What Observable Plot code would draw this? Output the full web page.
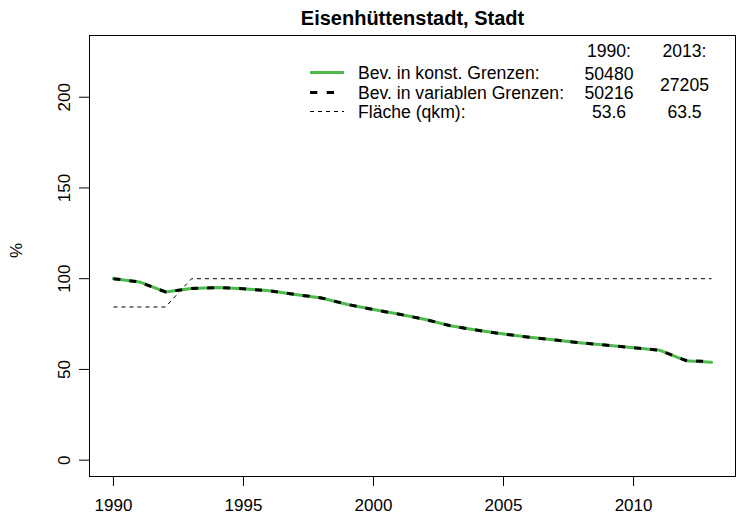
<!DOCTYPE html>
<html>
<head>
<meta charset="utf-8">
<script src="https://cdn.jsdelivr.net/npm/d3@7"></script>
<script src="https://cdn.jsdelivr.net/npm/@observablehq/plot@0.6"></script>
<style>
  body { margin: 0; background: #fff; }
  #chart { width: 742px; height: 516px; }
</style>
</head>
<body>
<div id="chart"></div>
<script>
// ---- data ----
const years    = [1990, 1991, 1992, 1993, 1994, 1995, 1996, 1997, 1998, 1999, 2000, 2001, 2002, 2003, 2004, 2005, 2006, 2007, 2008, 2009, 2010, 2011, 2012, 2013];
const konst    = [100, 98.2, 92.7, 94.6, 95.1, 94.5, 93.3, 91.3, 89.4, 85.8, 83.0, 80.4, 77.5, 73.9, 71.6, 69.5, 67.7, 66.2, 64.6, 63.3, 62.0, 60.6, 54.8, 53.9];
const variabel = [100, 98.2, 92.7, 94.6, 95.1, 94.5, 93.3, 91.3, 89.4, 85.8, 83.0, 80.4, 77.5, 73.9, 71.6, 69.5, 67.7, 66.2, 64.6, 63.3, 62.0, 60.6, 55.0, 54.2];
const flaeche  = [84.4, 84.4, 84.4, 100, 100, 100, 100, 100, 100, 100, 100, 100, 100, 100, 100, 100, 100, 100, 100, 100, 100, 100, 100, 100];
const xTicks = [1990, 1995, 2000, 2005, 2010];
const yTicks = [0, 50, 100, 150, 200];
const title = "Eisenhüttenstadt, Stadt";
const yLabel = "%";
const legendLabels = ["Bev. in konst. Grenzen:", "Bev. in variablen Grenzen:", "Fläche (qkm):"];
const legendHeaders = ["1990:", "2013:"];
const legendValues1990 = ["50480", "50216", "53.6"];
const legendValues2013 = ["27205", "63.5"];

const rows = years.map((year, i) => ({year, konst: konst[i], variabel: variabel[i], flaeche: flaeche[i]}));

const font = "'Liberation Sans', Arial, Helvetica, sans-serif";
const green = "#4cbb4c";

const chart = Plot.plot({
  width: 742,
  height: 516,
  marginLeft: 89,
  marginRight: 7,
  marginTop: 35,
  marginBottom: 40,
  style: {fontFamily: font, fontSize: "16.8px", background: "#fff", color: "#000", overflow: "visible"},
  x: {domain: [1989.08, 2013.92]},
  y: {domain: [-9, 234]},
  marks: [
    Plot.frame({stroke: "#000", strokeWidth: 1}),
    Plot.axisX({ticks: xTicks, tickSize: 10, tickPadding: 12, tickFormat: d => String(d), label: null, fontSize: 17}),
    Plot.axisY({ticks: yTicks, tickSize: 10, tickFormat: () => "", label: null}),
    Plot.text(yTicks, {y: d => d, text: d => String(d), frameAnchor: "left", dx: -20, rotate: -90, lineAnchor: "bottom", textAnchor: "middle", fontSize: 17}),
    Plot.text([yLabel], {text: d => d, frameAnchor: "left", dx: -73, dy: 2, rotate: -90, lineAnchor: "middle", fontSize: 17}),
    Plot.text([title], {text: d => d, frameAnchor: "top", dy: -17, lineAnchor: "middle", fontSize: 20, fontWeight: "bold"}),
    Plot.line(rows, {x: "year", y: "flaeche", stroke: "#000", strokeWidth: 1, strokeDasharray: "4,4", strokeLinecap: "butt"}),
    Plot.line(rows, {x: "year", y: "konst", stroke: green, strokeWidth: 3}),
    Plot.line(rows, {x: "year", y: "variabel", stroke: "#000", strokeWidth: 3, strokeDasharray: "7,9", strokeLinecap: "butt"})
  ]
});
document.getElementById("chart").appendChild(chart);

// ---- legend (drawn inside the plot box, top right) ----
const svg = d3.select(chart);
const lg = svg.append("g").attr("font-family", font).attr("font-size", 17.6).attr("fill", "#000");
const rowY = [72.5, 92.5, 111.5];
const sampleStyles = [
  {stroke: green, width: 3, dash: null},
  {stroke: "#000", width: 3, dash: "7.3,9.4,7.3,30"},
  {stroke: "#000", width: 1, dash: "4,4"}
];
legendLabels.forEach((label, i) => {
  const s = sampleStyles[i];
  const ln = lg.append("line").attr("x1", 310).attr("x2", 344).attr("y1", rowY[i]).attr("y2", rowY[i])
    .attr("stroke", s.stroke).attr("stroke-width", s.width).attr("stroke-linecap", "butt");
  if (s.dash) ln.attr("stroke-dasharray", s.dash);
  lg.append("text").attr("x", 358).attr("y", rowY[i]).attr("dy", "0.35em").attr("text-anchor", "start").text(label);
});
const colX = [609, 684.5];
legendHeaders.forEach((h, j) => {
  lg.append("text").attr("x", colX[j]).attr("y", 51).attr("dy", "0.35em").attr("text-anchor", "middle").text(h);
});
legendValues1990.forEach((v, i) => {
  lg.append("text").attr("x", colX[0]).attr("y", [73.7, 92.8, 111.5][i]).attr("dy", "0.35em").attr("text-anchor", "middle").text(v);
});
legendValues2013.forEach((v, i) => {
  lg.append("text").attr("x", colX[1]).attr("y", [84.7, 111.5][i]).attr("dy", "0.35em").attr("text-anchor", "middle").text(v);
});
</script>
</body>
</html>
